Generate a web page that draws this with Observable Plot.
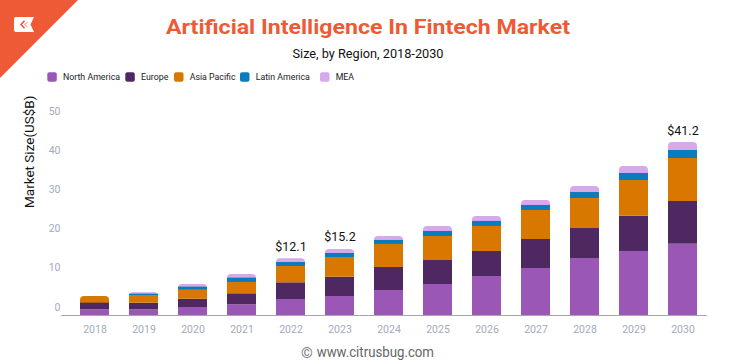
<!DOCTYPE html>
<html>
<head>
<meta charset="utf-8">
<script src="https://cdn.jsdelivr.net/npm/d3@7"></script>
<script src="https://cdn.jsdelivr.net/npm/@observablehq/plot@0.6"></script>
<style>
  body { margin: 0; background: #fff; }
  #wrap { position: relative; width: 736px; height: 364px; overflow: hidden; background: #fff; }
  #wrap svg { display: block; }
</style>
</head>
<body>
<div id="wrap"></div>
<script>
// ---------- data ----------
const years = ["2018","2019","2020","2021","2022","2023","2024","2025","2026","2027","2028","2029","2030"];
const seriesNames = ["North America","Europe","Asia Pacific","Latin America","MEA"];
const northAmerica = [1.45,1.45,2.04,2.73,4.08,4.85,6.38,7.91,9.95,11.99,14.54,16.33,18.19];
const europe       = [1.69,1.68,2.12,2.81,4.26,4.92,5.87,6.12,6.38,7.40,7.65,9.01,10.89];
const asiaPacific  = [1.71,1.89,2.30,2.89,4.16,5.03,5.87,6.12,6.38,7.40,7.65,9.10,10.97];
const latinAmerica = [0,0.41,0.77,1.10,1.02,1.02,1.02,1.28,1.28,1.28,1.53,1.79,2.04];
const mea          = [0,0.36,0.69,0.94,0.94,1.02,1.02,1.28,1.28,1.28,1.53,1.79,2.04];
const yTicks = [0,10,20,30,40,50];
const labelYears = ["2022","2023","2030"];
const labelTexts = ["$12.1","$15.2","$41.2"];
const titleText = "Artificial Intelligence In Fintech Market";
const subtitleText = "Size, by Region, 2018-2030";
const yLabelText = "Market Size(US$B)";
const captionText = "www.citrusbug.com";

// ---------- style / layout ----------
const colors = ["#9b57b5","#4f2862","#d97800","#0a7cbd","#d5a9ea"];
const accent = "#ef5a36";
const tickColor = "#a3aabb";
const legendX = [47.3,125.3,174,240,320];

// ---------- build table ----------
const valuesBySeries = [northAmerica, europe, asiaPacific, latinAmerica, mea];
const segments = [];
const caps = [];
const totals = {};
years.forEach((yr, i) => {
  let base = 0;
  let topIndex = 0;
  valuesBySeries.forEach((vals, j) => { if (vals[i] > 0) topIndex = j; });
  valuesBySeries.forEach((vals, j) => {
    const v = vals[i];
    const row = {year: yr, series: seriesNames[j], y1: base, y2: base + v};
    if (v > 0) (j === topIndex ? caps : segments).push(row);
    base += v;
  });
  totals[yr] = base;
});
const labels = labelYears.map((yr, k) => ({year: yr, total: totals[yr], text: labelTexts[k]}));

const wrap = d3.select("#wrap");

// ---------- header ----------
const head = wrap.append("svg").attr("width", 736).attr("height", 90);
head.append("path").attr("d", "M0,0 L78,0 L0,78 Z").attr("fill", accent);
head.append("path").attr("d", "M16,17 H34 L30.5,24.5 L34,32 H16 Q14,32 14,30 V19 Q14,17 16,17 Z").attr("fill", "#fff");
head.append("path").attr("d", "M24.5,20.8 L21,24.5 L24.5,28.2").attr("fill", "none").attr("stroke", accent).attr("stroke-width", 1.6);
head.append("path").attr("d", "M27.5,21.8 L24.8,24.5 L27.5,27.2").attr("fill", "none").attr("stroke", "#f6b3a2").attr("stroke-width", 1.2);
head.append("text").attr("x", 368).attr("y", 34.3).attr("text-anchor", "middle")
  .attr("font-family", "Roboto, sans-serif").attr("font-weight", 700).attr("font-size", 21)
  .attr("fill", accent).attr("textLength", 404).attr("lengthAdjust", "spacingAndGlyphs").text(titleText);
head.append("text").attr("x", 368).attr("y", 57.7).attr("text-anchor", "middle")
  .attr("font-family", "Roboto, sans-serif").attr("font-size", 12)
  .attr("fill", "#111").attr("textLength", 151).attr("lengthAdjust", "spacingAndGlyphs").text(subtitleText);
seriesNames.forEach((name, j) => {
  head.append("rect").attr("x", legendX[j]).attr("y", 72.3).attr("width", 9.5).attr("height", 9.5)
    .attr("rx", 2).attr("fill", colors[j]);
  head.append("text").attr("x", legendX[j] + 15.7).attr("y", 80.4)
    .attr("font-family", "Roboto, sans-serif").attr("font-size", 8.8).attr("fill", "#222").text(name);
});

// ---------- chart ----------
const chart = Plot.plot({
  width: 736,
  height: 250,
  marginLeft: 61,
  marginRight: 29,
  marginTop: 29,
  marginBottom: 25,
  style: {fontFamily: "Roboto, sans-serif", background: "transparent", overflow: "visible"},
  x: {type: "band", domain: years, range: [57.2, 720.5], paddingInner: 0.4, paddingOuter: 0.4, axis: null},
  y: {domain: [0, 50], axis: null},
  color: {domain: seriesNames, range: colors},
  marks: [
    Plot.rectY(caps, {x: "year", y1: "y1", y2: "y2", fill: "series", rx: 4, insetBottom: -6}),
    Plot.rectY(segments, {x: "year", y1: "y1", y2: "y2", fill: "series"}),
    Plot.ruleY([0], {stroke: "#a6a6b0", strokeWidth: 1.2}),
    Plot.axisX({tickSize: 0, tickPadding: 10, fontSize: 10.5, fill: tickColor, label: null}),
    Plot.axisY(yTicks, {tickSize: 0, tickPadding: 1, dy: -8.3, fontSize: 10.5, fill: tickColor, label: null}),
    Plot.text([yLabelText], {frameAnchor: "left", rotate: -90, dx: -32.3, dy: -9.5, fontSize: 13.5, fill: "#111"}),
    Plot.text(labels, {x: "year", y: "total", text: "text", dy: -12, fontSize: 12.5, fill: "#111"})
  ]
});
wrap.node().appendChild(chart);

// ---------- caption ----------
const foot = wrap.append("svg").attr("width", 736).attr("height", 24);
foot.append("text").attr("x", 307).attr("y", 17.5).attr("text-anchor", "middle")
  .attr("font-family", "Roboto, sans-serif").attr("font-size", 15).attr("fill", "#777").text("\u00A9");
foot.append("text").attr("x", 316.7).attr("y", 16.7)
  .attr("font-family", "Roboto, sans-serif").attr("font-size", 14).attr("fill", "#666")
  .attr("textLength", 117.3).attr("lengthAdjust", "spacingAndGlyphs").text(captionText);
</script>
</body>
</html>
